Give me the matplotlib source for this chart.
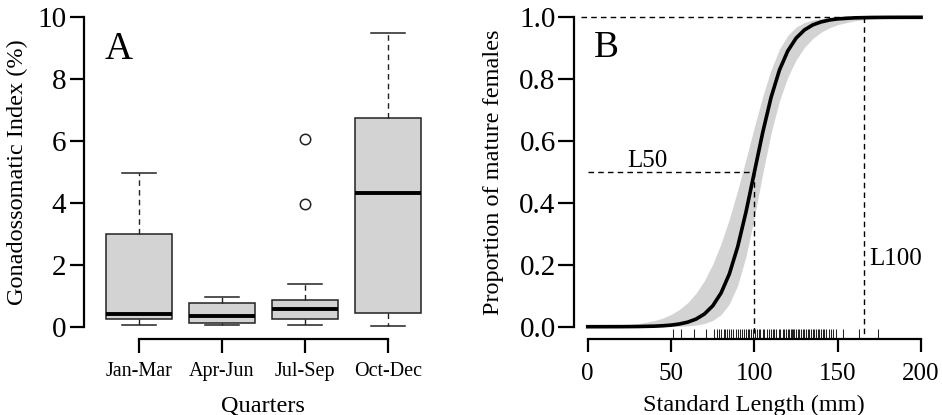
import matplotlib
matplotlib.use("Agg")
import matplotlib.pyplot as plt

plt.rcParams["font.family"] = ["Liberation Serif", "DejaVu Serif"]

# ── Panel A data: gonadosomatic index per quarter (box statistics) ───────────
quarters = ["Jan-Mar", "Apr-Jun", "Jul-Sep", "Oct-Dec"]
gsi_whislo = [0.05, 0.06, 0.06, 0.04]
gsi_q1     = [0.25, 0.12, 0.25, 0.44]
gsi_med    = [0.42, 0.36, 0.59, 4.32]
gsi_q3     = [3.00, 0.77, 0.86, 6.74]
gsi_whishi = [4.97, 0.97, 1.40, 9.49]
gsi_fliers = [[], [], [3.96, 6.07], []]

# ── Panel B data: maturity ogive ─────────────────────────────────────────────
sl_mm = [0, 10, 20, 30, 40, 45, 50, 55, 60, 65, 70, 75, 80, 85, 90, 95, 100,
         105, 110, 115, 120, 125, 130, 135, 140, 145, 150, 160, 170, 180, 190, 200]
p_fit = [0.00003, 0.00008, 0.00022, 0.00064, 0.0018, 0.0031, 0.0052, 0.0088,
         0.0148, 0.0247, 0.0411, 0.0675, 0.109, 0.171, 0.259, 0.372, 0.500,
         0.628, 0.741, 0.829, 0.891, 0.9325, 0.959, 0.9753, 0.985, 0.9912,
         0.9948, 0.99816, 0.99936, 0.99978, 0.99992, 0.99997]
p_upper = [0.00116, 0.00236, 0.0048, 0.0097, 0.0196, 0.0279, 0.0395, 0.0556,
           0.0779, 0.1083, 0.149, 0.202, 0.2686, 0.349, 0.4416, 0.5424, 0.6457,
           0.7444, 0.830, 0.8967, 0.9412, 0.9682, 0.9832, 0.9914, 0.99559,
           0.99776, 0.99887, 0.99971, 0.99993, 0.99998, 1.0, 1.0]
p_lower = [0.0, 0.0, 0.00001, 0.00004, 0.00017, 0.0003, 0.00067, 0.00134,
           0.00266, 0.0053, 0.0104, 0.0203, 0.0392, 0.0740, 0.134, 0.228, 0.3543,
           0.4953, 0.625, 0.729, 0.806, 0.862, 0.9026, 0.9314, 0.9517, 0.9661,
           0.9762, 0.9884, 0.99429, 0.9972, 0.99863, 0.99933]
L50 = 100
L100 = 166

# standard lengths of sampled females (rug)
rug_sl = [51, 56, 64, 71, 76, 77.5, 78.5, 80, 81.5, 82.5, 83.5, 84.5, 86, 87,
          89, 90, 91.5, 92.5, 94, 95, 96, 97, 98, 99, 100.5, 101.5, 102.5,
          103.5, 105, 106, 107.5, 108.5, 110, 111, 112, 113, 114.5, 115.5, 117,
          118, 119, 120, 121, 122, 122.5, 123, 124, 125, 126, 127, 128, 129,
          130, 131, 132, 133, 134, 135, 136, 137, 138, 139, 140, 141, 142, 143,
          145, 146, 147, 149, 153, 163, 174]

DASH = (0, (4, 3))

fig = plt.figure(figsize=(9.42, 4.15), dpi=100)

# ── Panel A ──────────────────────────────────────────────────────────────────
ax1 = fig.add_axes([84.2 / 942, (415 - 339.4) / 415,
                    (442.8 - 84.2) / 942, (339.4 - 4.6) / 415])
stats = []
for i in range(len(quarters)):
    stats.append(dict(label=quarters[i], whislo=gsi_whislo[i], q1=gsi_q1[i],
                      med=gsi_med[i], q3=gsi_q3[i], whishi=gsi_whishi[i],
                      fliers=gsi_fliers[i]))
ax1.bxp(stats, positions=[1, 2, 3, 4], widths=0.8, patch_artist=True,
        boxprops=dict(facecolor="#d3d3d3", edgecolor="#222222", lw=1.1),
        medianprops=dict(color="black", lw=2.8, solid_capstyle="butt"),
        whiskerprops=dict(color="#222222", lw=1.0, ls=DASH),
        capprops=dict(color="#222222", lw=1.1),
        flierprops=dict(marker="o", mfc="none", mec="#222222", ms=7.5, mew=1.1))
ax1.set_xlim(0.34, 4.66)
ax1.set_ylim(-0.4, 10.4)
ax1.set_yticks([0, 2, 4, 6, 8, 10])
ax1.set_xticks([1, 2, 3, 4])
ax1.set_xticklabels(quarters, fontsize=14.5)
ax1.tick_params(axis="y", labelsize=21, length=10, width=1.6, pad=3)
ax1.tick_params(axis="x", length=10, width=1.6, pad=6)
ax1.spines["left"].set_bounds(0, 10)
ax1.spines["bottom"].set_bounds(1, 4)
for s in ["left", "bottom"]:
    ax1.spines[s].set_linewidth(1.6)
for s in ["top", "right"]:
    ax1.spines[s].set_visible(False)
ax1.text(0.59, 8.65, "A", fontsize=28, ha="left", va="baseline")
fig.text(17 / 942, (415 - 172) / 415, "Gonadossomatic Index (%)",
         rotation=90, ha="center", va="center", fontsize=17.5)
fig.text(263 / 942, 4 / 415, "Quarters", ha="center", va="baseline",
         fontsize=17.5)

# ── Panel B ──────────────────────────────────────────────────────────────────
ax2 = fig.add_axes([574.4 / 942, (415 - 339.1) / 415,
                    (934.4 - 574.4) / 942, (339.1 - 4.9) / 415])
ax2.fill_between(sl_mm, p_lower, p_upper, color="#d3d3d3", lw=0, zorder=1)
ax2.plot([-4, L100], [1, 1], color="black", lw=1.0, ls=DASH, zorder=2)
ax2.plot([L100, L100], [1, -0.04], color="black", lw=1.0, ls=DASH, zorder=2)
ax2.plot([0, L50], [0.5, 0.5], color="black", lw=1.0, ls=DASH, zorder=2)
ax2.plot([L50, L50], [0.5, -0.04], color="black", lw=1.0, ls=DASH, zorder=2)
ax2.plot(sl_mm, p_fit, color="black", lw=2.6, zorder=3)
ax2.vlines(rug_sl, 0, 0.03, transform=ax2.get_xaxis_transform(),
           color="#222222", lw=0.75, zorder=2)
ax2.text(36, 0.517, "L50", fontsize=18, ha="center", va="baseline")
ax2.text(169, 0.2, "L100", fontsize=18, ha="left", va="baseline")
ax2.text(3.8, 0.872, "B", fontsize=27, ha="left", va="baseline")
ax2.set_xlim(-8, 208)
ax2.set_ylim(-0.04, 1.04)
ax2.set_xticks([0, 50, 100, 150, 200])
yt = [0.0, 0.2, 0.4, 0.6, 0.8, 1.0]
ax2.set_yticks(yt)
ax2.set_yticklabels([f"{v:.1f}" for v in yt])
ax2.tick_params(axis="y", labelsize=21, length=11.5, width=1.6, pad=2)
ax2.tick_params(axis="x", labelsize=18, length=9.5, width=1.6, pad=8)
ax2.spines["left"].set_bounds(0, 1)
ax2.spines["bottom"].set_bounds(0, 200)
for s in ["left", "bottom"]:
    ax2.spines[s].set_linewidth(1.6)
for s in ["top", "right"]:
    ax2.spines[s].set_visible(False)
fig.text(493 / 942, (415 - 172) / 415, "Proportion of mature females",
         rotation=90, ha="center", va="center", fontsize=17.5)
fig.text(754 / 942, 4 / 415, "Standard Length (mm)", ha="center",
         va="baseline", fontsize=17.5)

fig.savefig("out.png", dpi=100)
